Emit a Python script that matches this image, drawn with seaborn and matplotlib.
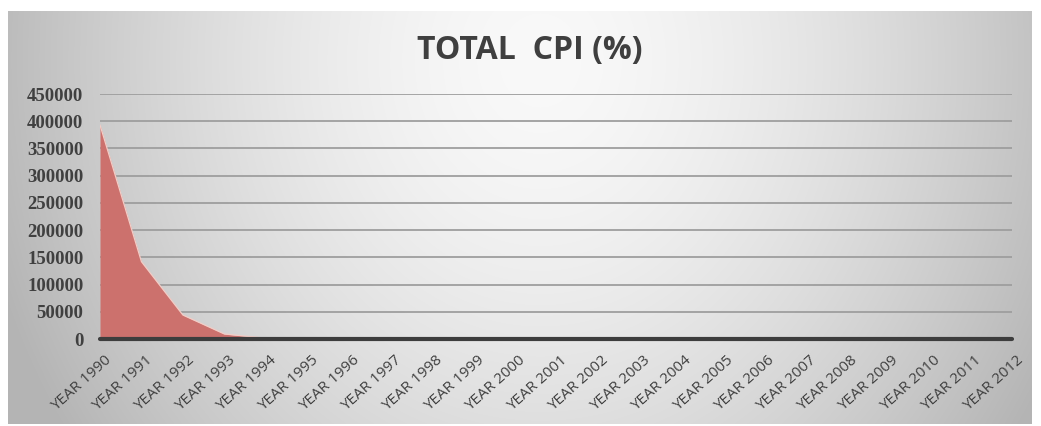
import numpy as np
import pandas as pd
import matplotlib
matplotlib.use("Agg")
import matplotlib.pyplot as plt
import matplotlib.transforms as mtransforms
import seaborn as sns

# Data
years = [f"YEAR {y}" for y in range(1990, 2013)]
cpi = [393000, 142000, 44000, 9200, 1500, 350, 120, 70, 55, 45, 38, 32,
       28, 25, 22, 19, 17, 14, 11, 8, 6, 4, 3]
y_ticks = list(range(0, 450001, 50000))

df = pd.DataFrame({"pos": np.arange(len(years)), "year": years, "cpi": cpi})

sns.set_theme(style="white")
plt.rcParams["font.family"] = ["Open Sans", "DejaVu Sans"]

W, H = 1041, 426
fig = plt.figure(figsize=(W / 100, H / 100), dpi=100)
fig.patch.set_facecolor("white")

# Shaded chart background (grey gradient, brightest at top centre)
bx0, bx1, by0, by1 = 8, 1032, 11, 424
bg = fig.add_axes([bx0 / W, 1 - by1 / H, (bx1 - bx0) / W, (by1 - by0) / H], zorder=-5)
gx, gy = np.meshgrid(np.arange(bx0, bx1), np.arange(by0, by1))
r = np.sqrt(((gx - 540) / 540.0) ** 2 + ((gy - 60) / 620.0) ** 2)
shade = np.clip(249 - 62 * r ** 1.6, 180, 252) / 255.0
bg.imshow(np.dstack([shade] * 3), aspect="auto", interpolation="bilinear")
bg.set_axis_off()

# Plot area
x0, x1, y_top, y_bot = 100, 1012, 94, 339
ax = fig.add_axes([x0 / W, 1 - y_bot / H, (x1 - x0) / W, (y_bot - y_top) / H])
ax.patch.set_alpha(0)

ax.fill_between(df["pos"], df["cpi"], 0, color="#cc716d", linewidth=0, zorder=2)
sns.lineplot(data=df, x="pos", y="cpi", ax=ax, color="#f3cdc6", linewidth=0.9,
             zorder=3, legend=False)

ax.set_xlim(0, len(years) - 1)
ax.set_ylim(0, 450000)
for v in y_ticks[1:]:
    ax.axhline(v, color="#9e9e9e", linewidth=1.3, zorder=1)
ax.axhline(0, color="#3d3d3d", linewidth=3, zorder=4, clip_on=False)

for s in ax.spines.values():
    s.set_visible(False)

ax.set_yticks(y_ticks)
ax.set_yticklabels([str(v) for v in y_ticks], family=["Liberation Serif", "DejaVu Serif"],
                   fontsize=13.5, fontweight="bold", color="#404040")
ax.set_xticks(df["pos"])
ax.set_xticklabels(years, rotation=42, ha="right", va="top", rotation_mode="anchor",
                   fontsize=11, color="#404040")
ax.tick_params(axis="both", length=0)
ax.tick_params(axis="y", pad=12)
ax.tick_params(axis="x", pad=10)
shift = mtransforms.ScaledTranslation(4 / 100, 0, fig.dpi_scale_trans)
for lbl in ax.get_xticklabels():
    lbl.set_transform(lbl.get_transform() + shift)
ax.set_xlabel("")
ax.set_ylabel("")

fig.text(530 / W, 1 - 50 / H, "TOTAL  CPI (%)", ha="center", va="center",
         fontsize=23, fontweight="bold", color="#3f3f3f")

fig.savefig("out.png", dpi=100)
